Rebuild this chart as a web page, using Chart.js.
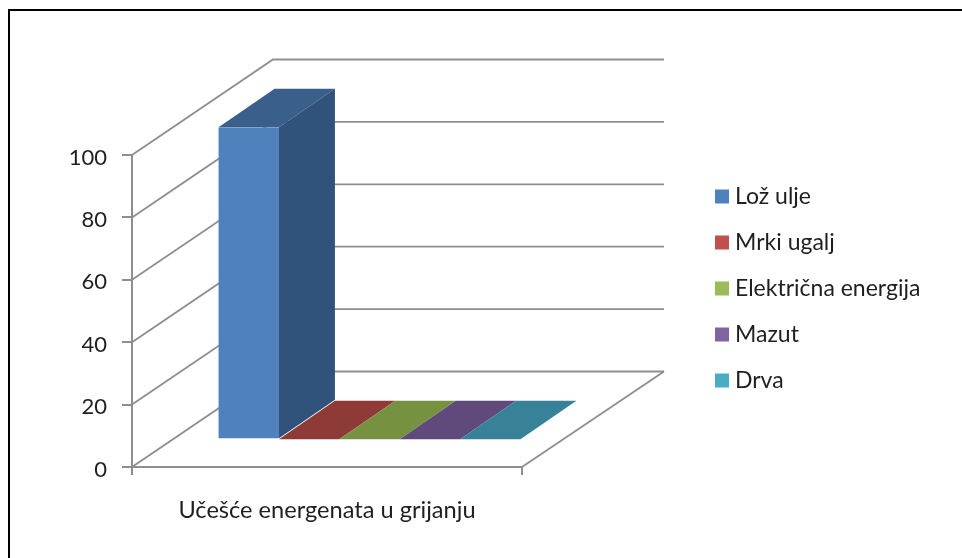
<!DOCTYPE html>
<html>
<head>
<meta charset="utf-8">
<title>Učešće energenata u grijanju</title>
<script src="https://cdn.jsdelivr.net/npm/chart.js@4"></script>
<style>
    html, body { margin: 0; padding: 0; background: #fff; overflow: hidden; }
    #frame { position: absolute; left: 8px; top: 9px; right: 0; bottom: 0; border-top: 2px solid #000; border-left: 2px solid #000; }
    #wrap { position: absolute; left: 0; top: 0; width: 962px; height: 558px; }
    canvas { filter: blur(0.4px); }
</style>
</head>
<body>
<div id="frame"></div>
<div id="wrap"><canvas id="chart" width="962" height="558"></canvas></div>
<script>
// Data
const categories = ["Učešće energenata u grijanju"];
const seriesNames = ["Lož ulje", "Mrki ugalj", "Električna energija", "Mazut", "Drva"];
const seriesValues = [[100], [0], [0], [0], [0]];
const tickValues = [0, 20, 40, 60, 80, 100];

// Colours of the three visible faces of each bar
const frontColors = ["#4F81BD", "#C0504D", "#9BBB59", "#8064A2", "#4BACC6"];
const topColors = ["#3B5F8B", "#8E3B38", "#769140", "#604A7B", "#378299"];
const sideColors = ["#31527A", "#7A322F", "#647B36", "#523F69", "#2F6F82"];

const axisColor = "#8E8E8E";
const textColor = "#1F1F1F";
const fontFamily = "Lato, 'Open Sans', sans-serif";

// Oblique vector from the front plane to the back wall
const depth = { x: 141, y: -95.5 };
// Where the bar front sits inside the box, and how deep a bar is
const barShift = { x: 42.5, y: -27.7 };
const barDepth = { x: 56, y: -38.5 };

// Walls and floor, drawn behind the bars, then the bars are shifted into the box
const walls3d = {
    id: "walls3d",
    beforeDatasetsDraw(chart) {
        const { ctx, scales: { x, y } } = chart;
        const backRight = x.right + depth.x + 1;
        ctx.save();
        ctx.strokeStyle = axisColor;
        ctx.lineWidth = 1.8;
        tickValues.forEach(v => {
            const py = y.getPixelForValue(v);
            ctx.beginPath();
            ctx.moveTo(x.left, py);
            ctx.lineTo(x.left + depth.x, py + depth.y);
            ctx.lineTo(backRight, py + depth.y);
            ctx.stroke();
        });
        const py0 = y.getPixelForValue(0);
        ctx.beginPath();
        ctx.moveTo(x.right, py0);
        ctx.lineTo(backRight, py0 + depth.y);
        ctx.stroke();
        ctx.restore();

        ctx.save();
        ctx.translate(barShift.x, barShift.y);
    },
    afterDatasetsDraw(chart) {
        const { ctx } = chart;
        ctx.restore();

        chart.data.datasets.forEach((ds, i) => {
            const bar = chart.getDatasetMeta(i).data[0];
            const left = bar.x - bar.width / 2 + barShift.x;
            const right = bar.x + bar.width / 2 + barShift.x;
            const top = bar.y + barShift.y;
            const base = bar.base + barShift.y;

            // top face
            ctx.fillStyle = topColors[i];
            ctx.beginPath();
            ctx.moveTo(left, top);
            ctx.lineTo(right, top);
            ctx.lineTo(right + barDepth.x, top + barDepth.y);
            ctx.lineTo(left + barDepth.x, top + barDepth.y);
            ctx.closePath();
            ctx.fill();

            // side face, only there when the bar has height
            if (base - top > 0) {
                ctx.fillStyle = sideColors[i];
                ctx.beginPath();
                ctx.moveTo(right, top);
                ctx.lineTo(right + barDepth.x, top + barDepth.y);
                ctx.lineTo(right + barDepth.x, base + barDepth.y);
                ctx.lineTo(right, base);
                ctx.closePath();
                ctx.fill();
            }
        });
    }
};

// Legend and value labels sit off where Chart.js would place them, so they are drawn here
const sideText = {
    id: "sideText",
    afterDraw(chart) {
        const { ctx, scales: { y } } = chart;
        ctx.save();
        ctx.textBaseline = "middle";

        ctx.font = "22px " + fontFamily;
        ctx.textAlign = "right";
        ctx.fillStyle = textColor;
        y.ticks.forEach((t, i) => {
            ctx.fillText(t.label, 107, y.getPixelForTick(i) + 2.5);
        });

        ctx.font = "23px " + fontFamily;
        ctx.textAlign = "left";
        chart.data.datasets.forEach((ds, i) => {
            const cy = 196.5 + i * 46;
            ctx.fillStyle = ds.backgroundColor;
            ctx.fillRect(715, cy - 7, 14, 14);
            ctx.fillStyle = textColor;
            ctx.fillText(ds.label, 735, cy);
        });
        ctx.restore();
    }
};

new Chart(document.getElementById("chart").getContext("2d"), {
    type: "bar",
    data: {
        labels: categories,
        datasets: seriesNames.map((name, i) => ({
            label: name,
            data: seriesValues[i],
            backgroundColor: frontColors[i],
            borderWidth: 0
        }))
    },
    options: {
        responsive: false,
        animation: false,
        categoryPercentage: 0.774,
        barPercentage: 1,
        layout: { padding: { left: 0, right: 440, top: 155, bottom: 0 } },
        plugins: { legend: { display: false }, tooltip: { enabled: false } },
        scales: {
            x: {
                afterFit(s) { s.height = 91; },
                border: { color: axisColor, width: 2 },
                grid: { drawOnChartArea: false, color: axisColor, lineWidth: 2, tickLength: 8 },
                ticks: { color: textColor, padding: 21, maxRotation: 0, font: { family: fontFamily, size: 23.6 } }
            },
            y: {
                min: 0,
                max: 100,
                afterFit(s) { s.width = 132; },
                border: { color: axisColor, width: 2 },
                grid: { drawOnChartArea: false, color: axisColor, lineWidth: 2, tickLength: 10 },
                ticks: { display: false, stepSize: 20 }
            }
        }
    },
    plugins: [walls3d, sideText]
});
</script>
</body>
</html>
